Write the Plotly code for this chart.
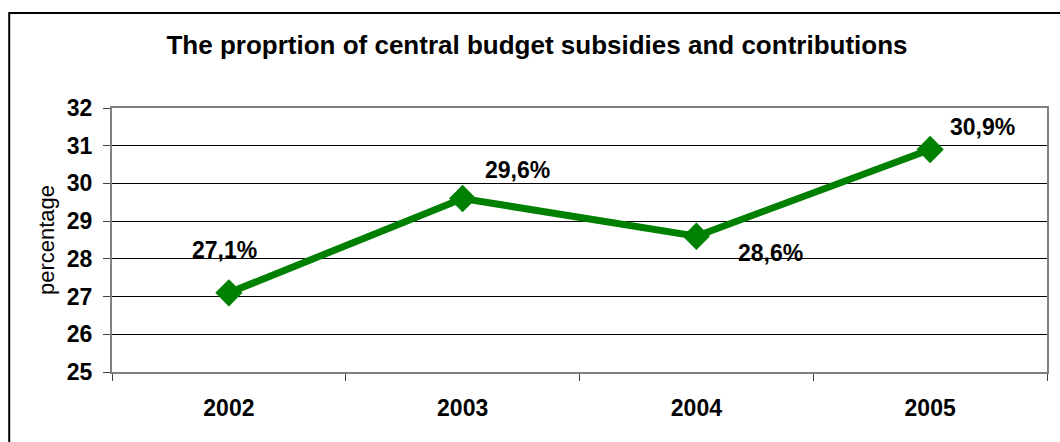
import plotly.graph_objects as go

# Data
years = ["2002", "2003", "2004", "2005"]
share = [27.1, 29.6, 28.6, 30.9]

# Label offsets (pixels) relative to each point
label_dx = [-4, 55, 74, 52]
label_dy = [-43, -29, 17, -22]

W, H = 1060, 442
ml, mr, mt, mb = 112, 11, 108, 70
pw, ph = W - ml - mr, H - mt - mb

FAM = "Liberation Sans, Arial"

fig = go.Figure()
fig.add_trace(go.Scatter(
    x=years, y=share, mode="lines+markers",
    line=dict(color="#008000", width=7),
    marker=dict(symbol="diamond", size=21, color="#008000"),
    showlegend=False, hoverinfo="skip",
))

for i, (y, dx, dy) in enumerate(zip(share, label_dx, label_dy)):
    fig.add_annotation(
        x=i, y=y, xref="x", yref="y",
        text="<b>" + f"{y:.1f}".replace(".", ",") + "%</b>",
        showarrow=False, xshift=dx, yshift=-dy,
        font=dict(family=FAM, size=23, color="black"),
    )

# Chart frame (left and top edges visible)
fig.add_shape(
    type="rect", xref="paper", yref="paper",
    x0=(9 - ml) / pw, x1=(W + 10 - ml) / pw,
    y0=-(H + 10 - (H - mb)) / ph, y1=(H - mb - 13) / ph,
    line=dict(color="black", width=2), layer="above",
)

fig.update_layout(
    width=W, height=H,
    margin=dict(l=ml, r=mr, t=mt, b=mb),
    paper_bgcolor="white", plot_bgcolor="white",
    title=dict(
        text="<b>The proprtion of central budget subsidies and contributions</b>",
        x=537 / W, xanchor="center", y=1 - 45 / H, yanchor="middle",
        font=dict(family=FAM, size=26, color="black"),
    ),
    font=dict(family=FAM, color="black"),
)

fig.update_xaxes(
    type="category", tickson="boundaries", ticks="outside", ticklen=7,
    tickcolor="#404040", tickwidth=1,
    showgrid=False, showline=True, linecolor="#808080", linewidth=2, mirror=True,
    tickfont=dict(family=FAM, size=23, color="black", weight="bold"),
    ticklabelstandoff=14,
    range=[-0.5, 3.5],
)
fig.update_yaxes(
    range=[25, 32], dtick=1, ticks="outside", ticklen=7,
    tickcolor="#404040", tickwidth=1,
    showgrid=True, gridcolor="black", gridwidth=1,
    showline=True, linecolor="#808080", linewidth=2, mirror=True,
    tickfont=dict(family=FAM, size=23, color="black", weight="bold"),
    ticklabelstandoff=6,
    title=dict(text="percentage", font=dict(family=FAM, size=22, color="black"), standoff=6),
    zeroline=False,
)

fig.write_html("out.html")
